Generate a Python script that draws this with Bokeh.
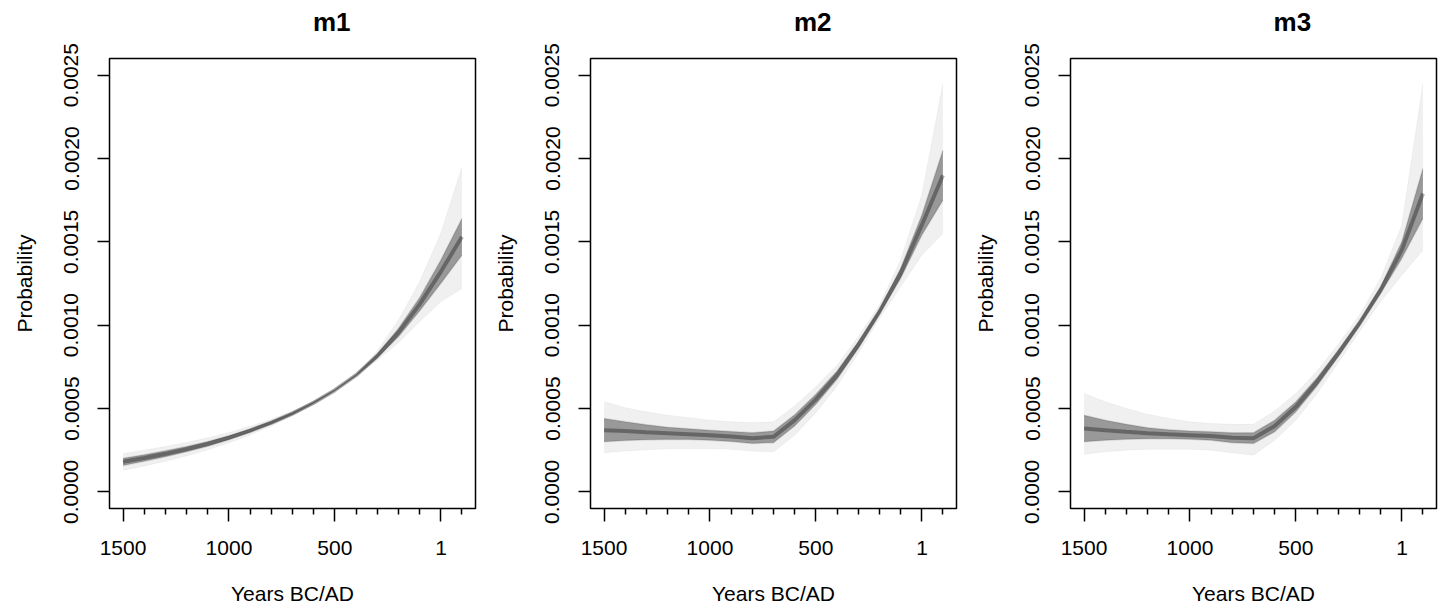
from bokeh.plotting import figure
from bokeh.layouts import row, column
from bokeh.models import Range1d, FixedTicker, Label
from bokeh.embed import file_html
from bokeh.resources import INLINE

# ---------------- data ----------------
years = [-1500, -1400, -1300, -1200, -1100, -1000, -900, -800, -700,
         -600, -500, -400, -300, -200, -100, 0, 100]
unit = 1e-4  # values below are in units of 1e-4

titles = ["m1", "m2", "m3"]

m1_mid    = [1.80, 2.03, 2.28, 2.56, 2.88, 3.25, 3.67, 4.15, 4.70, 5.35, 6.10, 7.00, 8.15, 9.55, 11.25, 13.20, 15.30]
m1_hi_in  = [2.02, 2.23, 2.46, 2.72, 3.02, 3.37, 3.77, 4.23, 4.76, 5.39, 6.12, 7.03, 8.27, 9.80, 11.65, 13.90, 16.40]
m1_lo_in  = [1.58, 1.83, 2.10, 2.40, 2.74, 3.13, 3.57, 4.07, 4.64, 5.31, 6.08, 6.97, 8.03, 9.30, 10.85, 12.50, 14.20]
m1_hi_out = [2.30, 2.50, 2.72, 2.96, 3.24, 3.56, 3.93, 4.35, 4.85, 5.44, 6.14, 7.06, 8.45, 10.30, 12.60, 15.50, 19.50]
m1_lo_out = [1.30, 1.55, 1.84, 2.16, 2.52, 2.94, 3.41, 3.95, 4.55, 5.26, 6.06, 6.94, 7.90, 8.95, 10.20, 11.40, 12.20]

m2_mid    = [3.70, 3.65, 3.58, 3.52, 3.46, 3.40, 3.32, 3.22, 3.30, 4.30, 5.55, 7.00, 8.80, 10.80, 13.10, 16.00, 19.00]
m2_hi_in  = [4.40, 4.20, 4.02, 3.88, 3.78, 3.70, 3.62, 3.55, 3.65, 4.62, 5.85, 7.25, 9.00, 10.95, 13.40, 16.60, 20.50]
m2_lo_in  = [3.00, 3.08, 3.12, 3.14, 3.14, 3.10, 3.02, 2.90, 2.95, 3.95, 5.25, 6.75, 8.60, 10.65, 12.80, 15.40, 17.50]
m2_hi_out = [5.40, 5.05, 4.80, 4.60, 4.45, 4.30, 4.20, 4.15, 4.20, 5.15, 6.30, 7.60, 9.30, 11.20, 13.90, 17.80, 24.50]
m2_lo_out = [2.35, 2.45, 2.52, 2.58, 2.60, 2.60, 2.55, 2.45, 2.40, 3.40, 4.75, 6.35, 8.30, 10.40, 12.30, 14.20, 15.50]

m3_mid    = [3.80, 3.70, 3.60, 3.52, 3.45, 3.40, 3.35, 3.25, 3.22, 3.95, 5.10, 6.60, 8.30, 10.10, 12.10, 14.50, 17.90]
m3_hi_in  = [4.60, 4.30, 4.05, 3.85, 3.72, 3.65, 3.60, 3.55, 3.55, 4.30, 5.40, 6.85, 8.50, 10.25, 12.30, 15.00, 19.40]
m3_lo_in  = [3.00, 3.10, 3.15, 3.18, 3.18, 3.15, 3.10, 2.95, 2.90, 3.60, 4.80, 6.35, 8.10, 9.95, 11.90, 14.00, 16.40]
m3_hi_out = [5.90, 5.40, 5.00, 4.65, 4.40, 4.20, 4.10, 4.05, 4.05, 4.85, 5.90, 7.25, 8.85, 10.60, 12.80, 16.00, 24.50]
m3_lo_out = [2.25, 2.40, 2.50, 2.55, 2.55, 2.55, 2.50, 2.35, 2.20, 3.10, 4.30, 5.90, 7.75, 9.60, 11.40, 13.00, 14.50]

x_major_ticks = [-1500, -1000, -500, 1]
x_major_labels = ["1500", "1000", "500", "1"]
x_minor_ticks = [-1400, -1300, -1200, -1100, -900, -800, -700, -600,
                 -400, -300, -200, -100, 100]
y_ticks = [0.0, 0.0005, 0.0010, 0.0015, 0.0020, 0.0025]
y_labels = ["0.0000", "0.0005", "0.0010", "0.0015", "0.0020", "0.0025"]

x_label = "Years BC/AD"
y_label = "Probability"

FONT = "Liberation Sans"
X0, X1 = -1564, 164
Y0, Y1 = -0.0001, 0.0026
TITLE_H = 42
FRAME_W = 366


def scaled(v):
    return [a * unit for a in v]


def make_title(text, left_b, width):
    t = figure(width=width, height=TITLE_H, output_backend="svg", toolbar_location=None,
               x_range=Range1d(0, width), y_range=Range1d(0, TITLE_H),
               x_axis_location=None, y_axis_location=None,
               min_border_left=0, min_border_right=0, min_border_top=0, min_border_bottom=0)
    t.xgrid.visible = False
    t.ygrid.visible = False
    t.outline_line_color = None
    t.background_fill_color = "white"
    t.border_fill_color = "white"
    t.add_layout(Label(x=left_b + FRAME_W / 2, y=TITLE_H - 21, text=text,
                       text_font=FONT, text_font_size="26px", text_font_style="bold",
                       text_align="center", text_baseline="middle", text_color="black"))
    return t


def make_panel(mid, hi_in, lo_in, hi_out, lo_out, left_b, right_b, width):
    p = figure(width=width, height=609 - TITLE_H, output_backend="svg", toolbar_location=None,
               x_range=Range1d(X0, X1), y_range=Range1d(Y0, Y1),
               min_border_left=left_b, min_border_right=right_b,
               min_border_top=58 - TITLE_H, min_border_bottom=101)
    p.xgrid.visible = False
    p.ygrid.visible = False
    p.outline_line_color = "black"
    p.outline_line_width = 1.5
    p.outline_line_alpha = 1.0
    p.background_fill_color = "white"
    p.border_fill_color = "white"

    # bands of posterior curves
    p.varea(x=years, y1=scaled(lo_out), y2=scaled(hi_out), fill_color="black", fill_alpha=0.06)
    p.varea(x=years, y1=scaled(lo_in), y2=scaled(hi_in), fill_color="black", fill_alpha=0.36)
    p.line(x=years, y=scaled(hi_out), line_color="black", line_alpha=0.04, line_width=1)
    p.line(x=years, y=scaled(lo_out), line_color="black", line_alpha=0.04, line_width=1)
    p.line(x=years, y=scaled(hi_in), line_color="black", line_alpha=0.12, line_width=1.5)
    p.line(x=years, y=scaled(lo_in), line_color="black", line_alpha=0.12, line_width=1.5)
    p.line(x=years, y=scaled(mid), line_color="black", line_alpha=0.33, line_width=4)

    # x axis
    xa = p.xaxis[0]
    xa.ticker = FixedTicker(ticks=x_major_ticks, minor_ticks=x_minor_ticks)
    xa.major_label_overrides = {t: l for t, l in zip(x_major_ticks, x_major_labels)}
    xa.axis_label = x_label
    # y axis
    ya = p.yaxis[0]
    ya.ticker = FixedTicker(ticks=y_ticks, minor_ticks=[])
    ya.major_label_overrides = {t: l for t, l in zip(y_ticks, y_labels)}
    ya.major_label_orientation = "vertical"
    ya.axis_label = y_label

    for ax in (xa, ya):
        ax.axis_line_color = None
        ax.major_tick_line_color = "black"
        ax.major_tick_line_width = 1.5
        ax.major_tick_in = 0
        ax.minor_tick_in = 0
        ax.minor_tick_line_color = "black"
        ax.minor_tick_line_width = 1.5
        ax.major_label_text_font = FONT
        ax.major_label_text_font_size = "21px"
        ax.major_label_text_color = "black"
        ax.axis_label_text_font = FONT
        ax.axis_label_text_font_size = "21px"
        ax.axis_label_text_font_style = "normal"
        ax.axis_label_text_color = "black"

    xa.major_tick_out = 13
    xa.minor_tick_out = 6
    xa.major_label_standoff = 19
    xa.axis_label_standoff = 24

    ya.major_tick_out = 12
    ya.minor_tick_out = 0
    ya.major_label_standoff = 19
    ya.axis_label_standoff = 26
    return p


specs = [
    (titles[0], (m1_mid, m1_hi_in, m1_lo_in, m1_hi_out, m1_lo_out), 109, 6, 481),
    (titles[1], (m2_mid, m2_hi_in, m2_lo_in, m2_hi_out, m2_lo_out), 109, 6, 481),
    (titles[2], (m3_mid, m3_hi_in, m3_lo_in, m3_hi_out, m3_lo_out), 108, 6, 480),
]

cols = []
for title, series, lb, rb, w in specs:
    cols.append(column(make_title(title, lb, w), make_panel(*series, lb, rb, w)))

layout = row(*cols)
open("out.html", "w").write(file_html(layout, INLINE))
